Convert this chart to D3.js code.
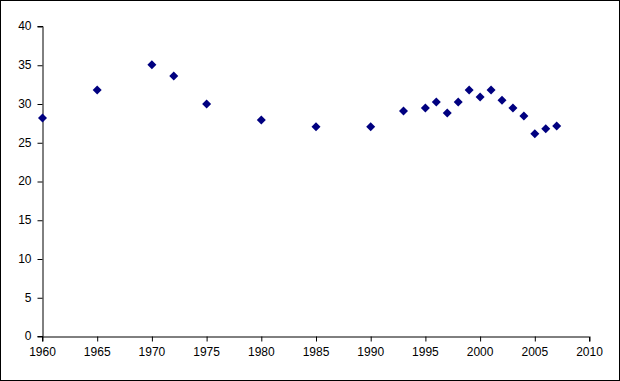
<!DOCTYPE html>
<html><head><meta charset="utf-8">
<script src="https://cdn.jsdelivr.net/npm/d3@7"></script>
<style>body{margin:0;background:#fff}svg{display:block}</style>
</head><body><svg id="c" width="620" height="381"></svg>
<script>
const years = [1960,1965,1970,1972,1975,1980,1985,1990,1993,1995,1996,1997,1998,1999,2000,2001,2002,2003,2004,2005,2006,2007];
const values = [28.2,31.8,35.05,33.6,30.0,27.95,27.05,27.05,29.1,29.5,30.25,28.85,30.25,31.8,30.9,31.8,30.5,29.5,28.45,26.15,26.8,27.15];
const xTicks = [1960,1965,1970,1975,1980,1985,1990,1995,2000,2005,2010];
const yTicks = [0,5,10,15,20,25,30,35,40];

const svg = d3.select("#c");
svg.append("rect").attr("x",0.5).attr("y",0.5).attr("width",619).attr("height",380)
  .attr("fill","#fff").attr("stroke","#000");

const x = d3.scaleLinear().domain([1960,2010]).range([42,589]);
const y = d3.scaleLinear().domain([0,40]).range([336,26]);

const font = "'Liberation Sans', Arial, sans-serif";

const gx = svg.append("g").attr("transform","translate(0,336.5)")
  .call(d3.axisBottom(x).tickValues(xTicks).tickFormat(d3.format("d")).tickSizeOuter(0).tickSize(5).tickPadding(6));
const gy = svg.append("g").attr("transform","translate(42.5,0)")
  .call(d3.axisLeft(y).tickValues(yTicks).tickSizeOuter(0).tickSize(5).tickPadding(6));
[gx,gy].forEach(g=>{
  g.selectAll("path.domain").attr("stroke","#000");
  g.selectAll(".tick line").attr("stroke","#000");
  g.selectAll("text").attr("fill","#000").style("font-family",font).style("font-size","12px");
});
gx.selectAll(".tick line").attr("transform","translate(0.5,0)");
gy.selectAll(".tick line").attr("transform","translate(0,0.5)");

const diamond = "M0,-4.5L4.5,0L0,4.5L-4.5,0Z";
svg.append("g").selectAll("path").data(years).join("path")
  .attr("d",diamond)
  .attr("transform",(d,i)=>`translate(${x(d)+0.5},${y(values[i])+0.5})`)
  .attr("fill","#000080");
</script></body></html>
